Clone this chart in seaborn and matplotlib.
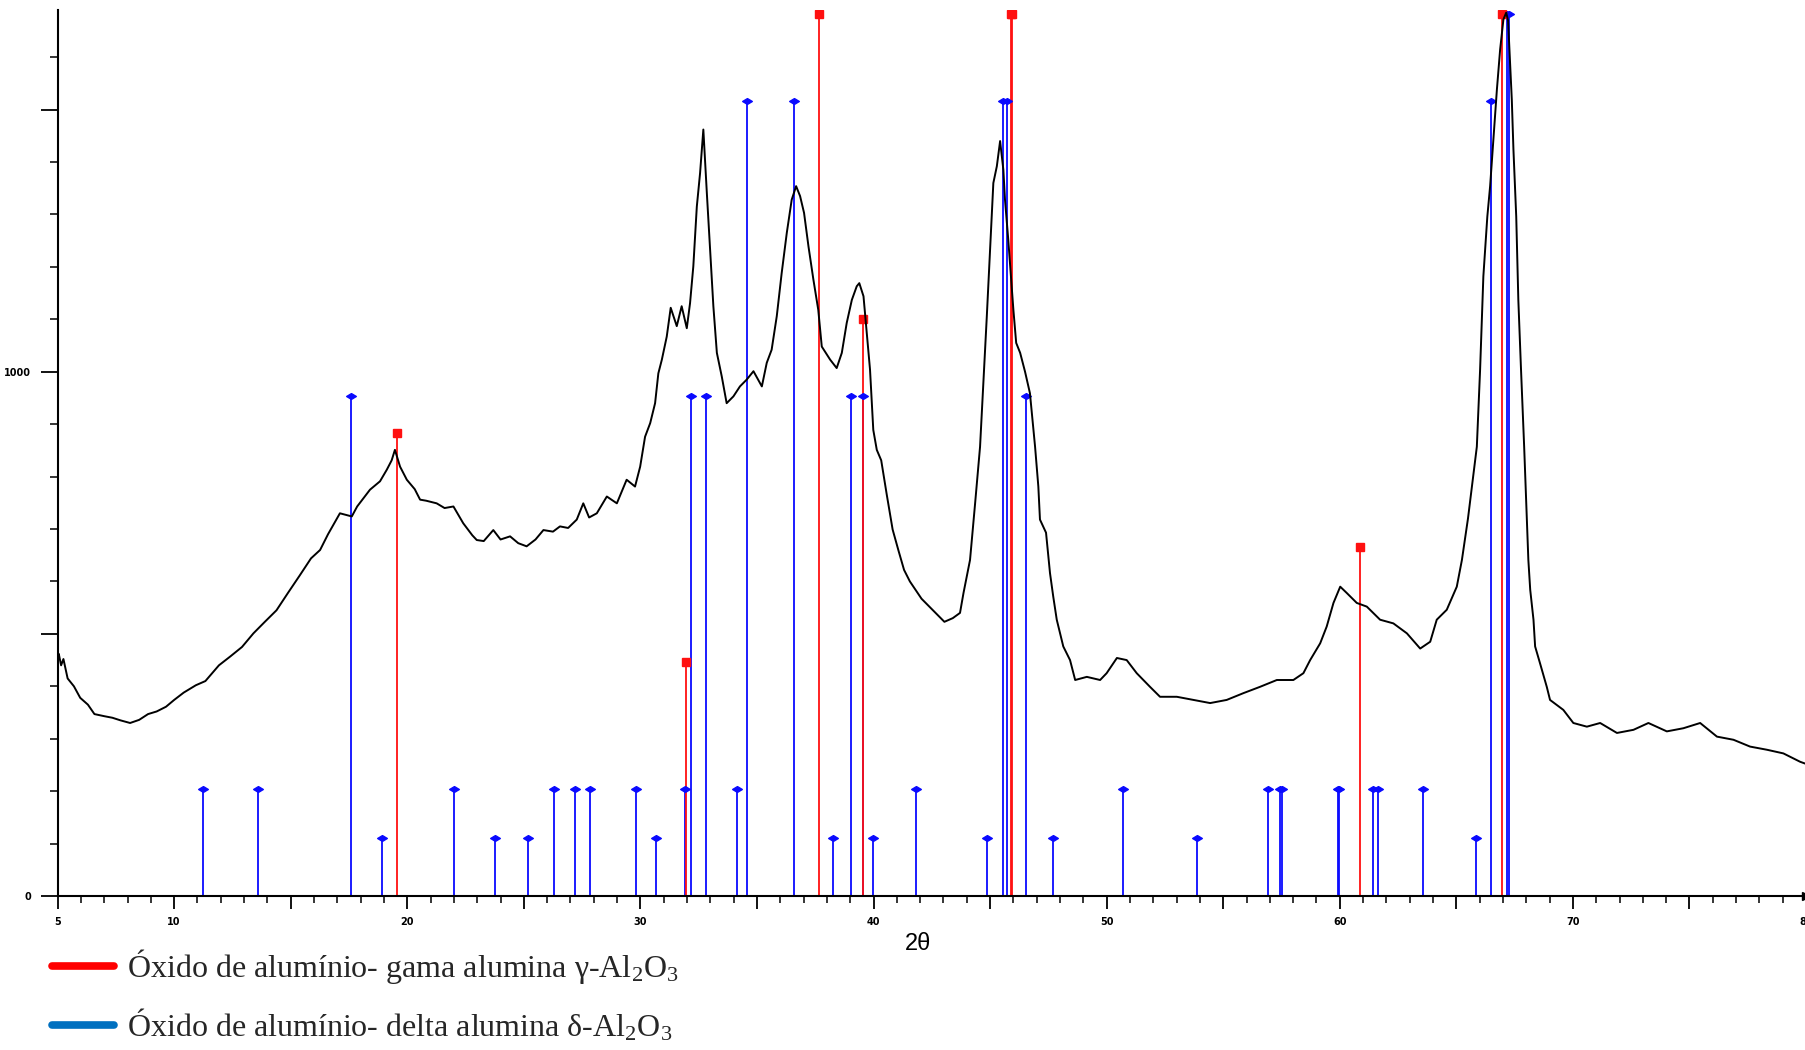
import matplotlib
matplotlib.use('Agg')
import matplotlib.pyplot as plt
import seaborn as sns
import pandas as pd
from matplotlib.path import Path
from matplotlib.lines import Line2D
from matplotlib.ticker import MultipleLocator, FixedLocator, FixedFormatter

# ---------------- data ----------------
two_theta = [5.00, 5.05, 5.15, 5.25, 5.43, 5.70, 5.97, 6.30, 6.58, 7.00, 7.35, 7.70, 8.11, 8.50,
             8.88, 9.25, 9.65, 10.00, 10.41, 10.93, 11.34, 11.92, 12.41, 12.91, 13.40, 13.89,
             14.39, 14.88, 15.38, 15.87, 16.26, 16.60, 17.11, 17.62, 17.85, 18.40, 18.83, 19.12,
             19.33, 19.47, 19.69, 19.98, 20.32, 20.55, 20.81, 21.26, 21.60, 21.98, 22.40, 22.79,
             22.98, 23.28, 23.69, 24.00, 24.41, 24.76, 25.12, 25.50, 25.84, 26.25, 26.55, 26.90,
             27.27, 27.55, 27.80, 28.13, 28.56, 28.99, 29.41, 29.77, 29.99, 30.20, 30.42, 30.63,
             30.77, 30.92, 31.13, 31.30, 31.56, 31.77, 31.99, 32.13, 32.27, 32.42, 32.56, 32.70,
             32.85, 32.99, 33.13, 33.28, 33.49, 33.70, 33.99, 34.27, 34.56, 34.85, 35.21, 35.42,
             35.63, 35.85, 36.06, 36.28, 36.49, 36.68, 36.85, 37.02, 37.21, 37.42, 37.63, 37.78,
             38.14, 38.42, 38.64, 38.85, 39.07, 39.28, 39.39, 39.57, 39.71, 39.85, 39.99, 40.14,
             40.33, 40.57, 40.82, 41.07, 41.31, 41.56, 42.06, 42.55, 43.04, 43.40, 43.71, 43.86,
             44.14, 44.36, 44.57, 44.71, 44.86, 45.00, 45.14, 45.29, 45.43, 45.57, 45.64, 45.78,
             46.00, 46.12, 46.29, 46.50, 46.71, 46.86, 46.93, 47.07, 47.14, 47.40, 47.57, 47.71,
             47.86, 48.14, 48.43, 48.65, 49.15, 49.72, 50.00, 50.44, 50.86, 51.29, 51.86, 52.29,
             53.01, 53.72, 54.44, 55.15, 55.87, 56.58, 57.30, 58.01, 58.44, 58.73, 59.16, 59.44,
             59.73, 60.02, 60.30, 60.73, 61.16, 61.73, 62.30, 62.88, 63.45, 63.88, 64.16, 64.59,
             65.02, 65.24, 65.50, 65.88, 66.02, 66.16, 66.33, 66.45, 66.59, 66.74, 66.88, 67.02,
             67.14, 67.22, 67.31, 67.38, 67.45, 67.57, 67.66, 67.77, 67.91, 68.09, 68.17, 68.31,
             68.38, 68.59, 68.88, 69.02, 69.59, 70.02, 70.60, 71.17, 71.89, 72.60, 73.24, 74.03,
             74.74, 75.46, 76.18, 76.89, 77.60, 78.32, 79.03, 79.75, 80.00]
intensity = [455, 462, 440, 452, 415, 400, 378, 365, 347, 343, 340, 335, 330, 336,
             347, 352, 361, 374, 388, 402, 410, 440, 457, 475, 501, 523,
             545, 578, 611, 644, 660, 690, 730, 724, 743, 775, 791, 813,
             831, 851, 819, 794, 776, 756, 754, 749, 740, 743, 711, 688,
             679, 677, 698, 680, 686, 673, 667, 680, 698, 695, 705, 702,
             718, 749, 722, 730, 762, 749, 794, 781, 819, 876, 902, 940,
             997, 1023, 1067, 1122, 1087, 1125, 1083, 1131, 1201, 1315, 1379, 1462,
             1341, 1233, 1125, 1036, 991, 940, 953, 972, 985, 1001, 972, 1017,
             1042, 1106, 1188, 1265, 1328, 1354, 1335, 1303, 1239, 1176, 1118, 1048,
             1023, 1007, 1036, 1093, 1137, 1163, 1169, 1144, 1074, 1004, 889, 851,
             831, 765, 699, 659, 622, 600, 567, 545, 523, 530, 540, 578,
             641, 750, 857, 978, 1106, 1233, 1360, 1392, 1440, 1385, 1328, 1252,
             1118, 1055, 1036, 1000, 959, 889, 857, 781, 718, 693, 616, 571,
             527, 476, 450, 412, 418, 412, 425, 454, 450, 425, 399, 380,
             380, 374, 368, 374, 387, 399, 412, 412, 425, 450, 482, 514,
             559, 590, 578, 559, 552, 527, 520, 501, 472, 485, 527, 546,
             590, 641, 720, 857, 1004, 1182, 1296, 1354, 1443, 1538, 1615, 1672,
             1685, 1670, 1583, 1519, 1424, 1296, 1137, 1010, 857, 641, 584, 527,
             476, 444, 399, 374, 355, 330, 323, 330, 311, 317, 330, 314,
             320, 330, 304, 298, 285, 279, 272, 256, 252]

# gamma alumina reference reflections (red)
gamma_pos = [19.57, 31.97, 37.66, 39.57, 45.88, 45.93, 60.87, 66.98]
gamma_int = [883, 447, 1683, 1101, 1683, 1683, 666, 1683]

# delta alumina reference reflections (blue)
delta_pos = [11.22, 13.61, 17.60, 18.93, 22.02, 23.78, 25.18, 26.30, 27.21, 27.84,
             29.80, 30.66, 31.90, 32.18, 32.82, 34.15, 34.58, 36.60, 38.28, 39.05,
             39.55, 39.97, 41.81, 44.88, 45.57, 45.72, 46.53, 47.69, 50.69, 53.87,
             56.94, 57.45, 57.51, 59.91, 59.97, 61.43, 61.65, 63.56, 65.86, 66.48,
             67.19, 67.25]
delta_int = [205, 205, 954, 110, 205, 110, 110, 205, 205, 205,
             205, 110, 205, 954, 954, 205, 1516, 1516, 110, 954,
             954, 110, 205, 110, 1516, 1516, 954, 110, 205, 110,
             205, 205, 205, 205, 205, 205, 205, 205, 110, 1516,
             1683, 1683]

x_tick_values = [5, 10, 15, 20, 25, 30, 35, 40, 45, 50, 55, 60, 65, 70, 75, 80]
x_tick_labels = ['5', '10', '', '20', '', '30', '', '40', '', '50', '', '60', '', '70', '', '80']
y_tick_values = [0, 500, 1000, 1500]
y_tick_labels = ['0', '', '1000', '']
x_label = '2θ'
legend_labels = ['Óxido de alumínio- gama alumina γ-Al$_2$O$_3$',
                 'Óxido de alumínio- delta alumina δ-Al$_2$O$_3$']

# ---------------- style ----------------
sns.set_theme(style='white')
plt.rcParams['font.family'] = ['DejaVu Sans']
plt.rcParams['mathtext.fontset'] = 'custom'
plt.rcParams['mathtext.rm'] = 'Liberation Serif'
plt.rcParams['mathtext.it'] = 'Liberation Serif:italic'
plt.rcParams['mathtext.bf'] = 'Liberation Serif:bold'

W, H = 1806, 1050
fig = plt.figure(figsize=(W / 100, H / 100), dpi=100)
fig.patch.set_facecolor('white')
ax = fig.add_axes([57.6 / W, 1 - 896 / H, 1 - 57.6 / W, (896 - 10) / H])
ax.set_facecolor('white')

RED = '#ff1010'
BLUE = '#0a0aff'
flat_diamond = Path([(-1, 0), (0, 0.6), (1, 0), (0, -0.6), (-1, 0)],
                    [Path.MOVETO, Path.LINETO, Path.LINETO, Path.LINETO, Path.CLOSEPOLY])

ax.vlines(delta_pos, 0, delta_int, color=BLUE, lw=1.3, zorder=2)
ax.plot(delta_pos, delta_int, ls='none', marker=flat_diamond, ms=7, color=BLUE, zorder=3)
ax.vlines(gamma_pos, 0, gamma_int, color=RED, lw=1.3, zorder=2)
ax.plot(gamma_pos, gamma_int, ls='none', marker='s', ms=5.5, color=RED, zorder=3)

df = pd.DataFrame({'two_theta': two_theta, 'intensity': intensity})
sns.lineplot(data=df, x='two_theta', y='intensity', color='black', lw=1.4,
             ax=ax, zorder=4, sort=False)

ax.set_xlim(5, 80)
ax.set_ylim(0, 1690)
ax.set_xlabel('')
ax.set_ylabel('')

for s in ['top', 'right']:
    ax.spines[s].set_visible(False)
for s in ['left', 'bottom']:
    ax.spines[s].set_color('black')
    ax.spines[s].set_linewidth(1.5)

ax.xaxis.set_major_locator(FixedLocator(x_tick_values))
ax.xaxis.set_major_formatter(FixedFormatter(x_tick_labels))
ax.xaxis.set_minor_locator(MultipleLocator(1))
ax.yaxis.set_major_locator(FixedLocator(y_tick_values))
ax.yaxis.set_major_formatter(FixedFormatter(y_tick_labels))
ax.yaxis.set_minor_locator(MultipleLocator(100))

ax.tick_params(axis='x', which='major', bottom=True, direction='out', length=9, width=1.3,
               color='black', labelsize=7, pad=6, labelcolor='black')
ax.tick_params(axis='x', which='minor', bottom=True, direction='out', length=5, width=1.1,
               color='black')
ax.tick_params(axis='y', which='major', left=True, direction='out', length=12, width=1.3,
               color='black', labelsize=7, pad=7, labelcolor='black')
ax.tick_params(axis='y', which='minor', left=True, direction='out', length=6, width=1.1,
               color='black')
for lab in ax.get_xticklabels() + ax.get_yticklabels():
    lab.set_fontweight('bold')

# arrow head at the end of the x axis
ax.plot([1], [0], marker='>', ms=6, color='black', transform=ax.transAxes, clip_on=False, zorder=5)

fig.text(918 / W, 1 - 944 / H, x_label, ha='center', va='center', fontsize=17,
         family='Liberation Sans', color='black')

handles = [Line2D([0], [0], color='#ff0000', lw=5.5),
           Line2D([0], [0], color='#0070c0', lw=5.5)]
fig.legend(handles, legend_labels, loc='center left', bbox_to_anchor=(52 / W, 1 - 995 / H),
           frameon=False, prop={'family': 'Liberation Serif', 'size': 23},
           handlelength=1.95, handletextpad=0.4, labelspacing=0.65, borderpad=0,
           borderaxespad=0)

fig.savefig('out.png', dpi=100, facecolor='white')
